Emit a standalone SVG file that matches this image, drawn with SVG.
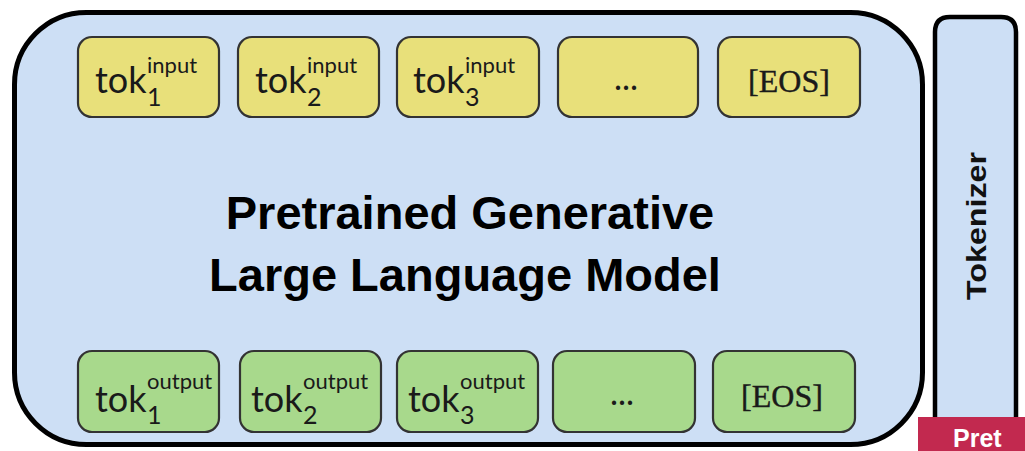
<svg xmlns="http://www.w3.org/2000/svg" width="1025" height="451" viewBox="0 0 1025 451">
<style>
.main{fill:#cddff5;stroke:#000;stroke-width:5}
.tkz{fill:#cddff5;stroke:#000;stroke-width:4.5}
.yel{fill:#e8e07a;stroke:#333;stroke-width:2.2}
.grn{fill:#a8d98c;stroke:#333;stroke-width:2.2}
.tok{font-family:Lato,"Noto Sans",sans-serif;font-size:36px;fill:#1a1a1a}
.sup{font-size:22px}
.sub{font-size:25px}
.eos{font-family:"Liberation Serif",serif;font-size:32px;fill:#1a1a1a;text-anchor:middle;stroke:#1a1a1a;stroke-width:0.4}
.dots{font-family:Lato,sans-serif;font-size:34px;fill:#1a1a1a;text-anchor:middle}
.title{font-family:"Liberation Sans",Arial,sans-serif;font-weight:bold;font-size:47px;fill:#000;text-anchor:middle}
.tkt{font-family:"Liberation Sans",Arial,sans-serif;font-weight:bold;font-size:27px;fill:#111;text-anchor:middle}
</style>
<rect width="1025" height="451" fill="#fff"/>
<g id="model">
<rect class="main" x="14.5" y="12.5" width="908" height="432" rx="72" ry="72"/>
<text class="title" x="470" y="229">Pretrained Generative</text>
<text class="title" x="465" y="291">Large Language Model</text>
</g>
<g id="in1"><rect class="yel" x="78" y="37" width="141" height="80" rx="14"/>
<text class="tok" x="95" y="93">tok<tspan class="sub" x="147" y="106">1</tspan><tspan class="sup" x="147" y="73">input</tspan></text></g>
<g id="in2"><rect class="yel" x="238" y="37" width="141" height="80" rx="14"/>
<text class="tok" x="255" y="93">tok<tspan class="sub" x="307" y="106">2</tspan><tspan class="sup" x="307" y="73">input</tspan></text></g>
<g id="in3"><rect class="yel" x="397" y="37" width="142" height="80" rx="14"/>
<text class="tok" x="413" y="93">tok<tspan class="sub" x="465" y="106">3</tspan><tspan class="sup" x="465" y="73">input</tspan></text></g>
<g id="in4"><rect class="yel" x="558" y="37" width="140" height="80" rx="14"/>
<text class="dots" x="626" y="90">...</text></g>
<g id="in5"><rect class="yel" x="718" y="37" width="142" height="80" rx="14"/>
<text class="eos" x="789" y="92">[EOS]</text></g>
<g id="out1"><rect class="grn" x="78" y="351" width="141" height="81" rx="14"/>
<text class="tok" x="95" y="412">tok<tspan class="sub" x="147" y="424">1</tspan><tspan class="sup" x="147" y="389">output</tspan></text></g>
<g id="out2"><rect class="grn" x="240" y="351" width="141" height="81" rx="14"/>
<text class="tok" x="251" y="412">tok<tspan class="sub" x="303" y="424">2</tspan><tspan class="sup" x="303" y="389">output</tspan></text></g>
<g id="out3"><rect class="grn" x="397" y="351" width="141" height="81" rx="14"/>
<text class="tok" x="408" y="412">tok<tspan class="sub" x="460" y="424">3</tspan><tspan class="sup" x="460" y="389">output</tspan></text></g>
<g id="out4"><rect class="grn" x="553" y="351" width="142" height="81" rx="14"/>
<text class="dots" x="622" y="405">...</text></g>
<g id="out5"><rect class="grn" x="713" y="351" width="142" height="81" rx="14"/>
<text class="eos" x="782" y="407">[EOS]</text></g>
<g id="tokenizer">
<path class="tkz" d="M935,470 V32 Q935,17 950,17 H1001 Q1016,17 1016,32 V470"/>
<text class="tkt" transform="translate(986,226) rotate(-90)" textLength="148" lengthAdjust="spacingAndGlyphs">Tokenizer</text>
</g>
<g id="redbox">
<rect x="918" y="417" width="120" height="50" fill="#c2294f"/>
<text x="953" y="447" font-family="Liberation Sans,Arial,sans-serif" font-weight="bold" font-size="25" fill="#fff">Pret</text>
</g>
<g id="connectors"/>
</svg>
